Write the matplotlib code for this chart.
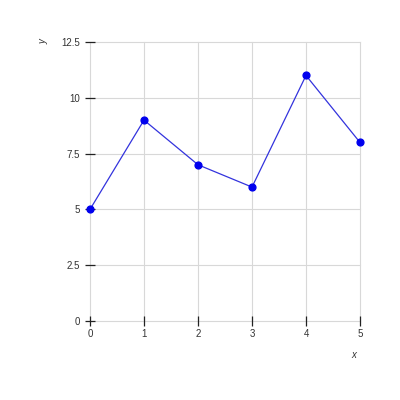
import matplotlib
matplotlib.use("Agg")
import matplotlib.pyplot as plt

x_vals = [0, 1, 2, 3, 4, 5]
y_vals = [5, 9, 7, 6, 11, 8]
x_ticks = [0, 1, 2, 3, 4, 5]
y_ticks = [0, 2.5, 5, 7.5, 10, 12.5]
y_tick_labels = ["0", "2.5", "5", "7.5", "10", "12.5"]

plt.rcParams['font.family'] = ['Liberation Sans', 'DejaVu Sans']

fig = plt.figure(figsize=(4, 4), dpi=100)
ax = fig.add_axes([0.225, 0.1975, 0.675, 0.6975])

# grid drawn by hand so it sits under the tick marks
for xv in x_ticks:
    ax.axvline(xv, color="#d8d8d8", linewidth=0.8, zorder=0.2, clip_on=False)
for yv in y_ticks:
    ax.axhline(yv, color="#d8d8d8", linewidth=0.8, zorder=0.2, clip_on=False)

ax.plot(x_vals, y_vals, color="#3333dd", linewidth=0.9, zorder=3, clip_on=False)
ax.scatter(x_vals, y_vals, color="#0000ee", s=24, zorder=4, clip_on=False)

ax.set_xlim(0, 5)
ax.set_ylim(0, 12.5)
ax.set_xticks(x_ticks)
ax.set_yticks(y_ticks)
ax.set_yticklabels(y_tick_labels)
ax.set_axisbelow(True)
for s in ax.spines.values():
    s.set_visible(False)
ax.tick_params(direction="inout", length=7, width=0.9, color="#222222",
               labelsize=7, labelcolor="#333333", pad=2)
ax.tick_params(axis="y", pad=4)

fig.text(0.11, 0.895, "y", rotation=90, fontsize=7, style="italic",
         color="#333333", ha="center", va="center")
fig.text(0.885, 0.112, "x", fontsize=7, style="italic",
         color="#333333", ha="center", va="center")

fig.savefig("out.png", dpi=100)
